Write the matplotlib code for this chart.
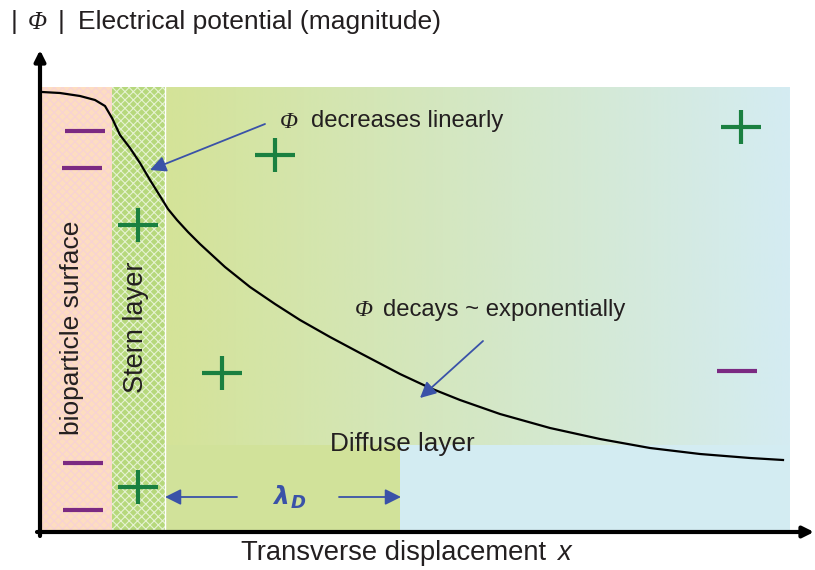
import numpy as np
import matplotlib.pyplot as plt
from matplotlib.patches import Rectangle

# potential curve (pixel coords, y downward)
curve_x = [42, 60, 80, 95, 105, 112, 120, 130, 140, 150, 160, 168, 177, 188, 200, 225, 250, 275,
           300, 330, 360, 400, 430, 460, 500, 550, 600, 650, 700, 750, 783]
curve_y = [92, 93, 96, 100, 106, 118, 135, 148, 163, 180, 196, 209, 220, 232, 244, 267, 287, 304,
           320, 337, 353, 374, 388, 400, 414, 428, 439, 448, 454, 458, 460]

plus_x = [138, 275, 222, 138, 741]
plus_y = [225, 155, 373, 487, 127]
minus_x = [85, 82, 83, 83, 737]
minus_y = [131, 168, 463, 510, 371]

region_edges = [42, 112, 165, 400, 790]   # surface | stern | diffuse | bulk
top, bottom, split = 87, 530, 445

BLUE = "#3a52a8"
GREEN = "#1a8040"
PURPLE = "#7b2a82"
TXT = "#231f20"

plt.rcParams["hatch.linewidth"] = 0.8
fig = plt.figure(figsize=(8.15, 5.7), dpi=100)
ax = fig.add_axes([0, 0, 1, 1])
ax.set_xlim(0, 815)
ax.set_ylim(570, 0)
ax.axis("off")

# bioparticle surface
ax.add_patch(Rectangle((region_edges[0], top), region_edges[1] - region_edges[0], bottom - top,
                       facecolor="#fdddc0", edgecolor="#f8d2d4", hatch="xxxx", lw=0))
# stern layer
ax.add_patch(Rectangle((region_edges[1], top), region_edges[2] - region_edges[1], bottom - top,
                       facecolor="#b6d87c", edgecolor="#e6f2d2", hatch="xxxx", lw=0))
# diffuse layer gradient
c0 = np.array([212, 227, 152]) / 255
c1 = np.array([212, 236, 242]) / 255
t = np.linspace(0, 1, 256)[None, :, None]
grad = c0 * (1 - t) + c1 * t
ax.imshow(grad, extent=(region_edges[2], region_edges[4], split, top), aspect="auto", zorder=1)
ax.add_patch(Rectangle((region_edges[2], split), region_edges[3] - region_edges[2], bottom - split,
                       facecolor="#d1e29a", lw=0, zorder=1))
ax.add_patch(Rectangle((region_edges[3], split), region_edges[4] - region_edges[3], bottom - split,
                       facecolor="#d3ecf2", lw=0, zorder=1))
ax.plot([region_edges[2]] * 2, [top, bottom], color="white", lw=1, zorder=2)

# potential curve
ax.plot(curve_x, curve_y, color="black", lw=1.6, zorder=4)

# charges
for x, y in zip(plus_x, plus_y):
    ax.plot([x - 20, x + 20], [y, y], color=GREEN, lw=3, zorder=5, solid_capstyle="butt")
    ax.plot([x, x], [y - 17, y + 17], color=GREEN, lw=3, zorder=5, solid_capstyle="butt")
for x, y in zip(minus_x, minus_y):
    ax.plot([x - 20, x + 20], [y, y], color=PURPLE, lw=3, zorder=5, solid_capstyle="butt")

# axes arrows
ax.annotate("", xy=(40, 50), xytext=(40, 536),
            arrowprops=dict(arrowstyle="-|>", lw=3, color="black", mutation_scale=16,
                            shrinkA=0, shrinkB=0), zorder=6)
ax.annotate("", xy=(814, 532), xytext=(37, 532),
            arrowprops=dict(arrowstyle="-|>", lw=3, color="black", mutation_scale=16,
                            shrinkA=0, shrinkB=0), zorder=6)

# annotation arrows
ap = dict(arrowstyle="-|>", lw=1.3, color=BLUE, mutation_scale=24, shrinkA=0, shrinkB=0)
ax.annotate("", xy=(150, 170), xytext=(265, 124), arrowprops=ap, zorder=6)
ax.annotate("", xy=(420, 398), xytext=(483, 341), arrowprops=ap, zorder=6)
ax.annotate("", xy=(165, 497), xytext=(237, 497), arrowprops=ap, zorder=6)
ax.annotate("", xy=(401, 497), xytext=(339, 497), arrowprops=ap, zorder=6)

# texts
sans = "Liberation Sans"
txt = dict(family=sans, color=TXT, va="center", zorder=5)
phi = dict(family="Liberation Serif", style="italic", color=TXT, va="center")
ax.text(11, 22, "|", fontsize=19, **txt)
ax.text(28, 23, "Φ", fontsize=18, **phi)
ax.text(58, 22, "|", fontsize=19, **txt)
ax.text(78, 22, "Electrical potential (magnitude)", fontsize=19, **txt)

ax.text(280, 122, "Φ", fontsize=17, **phi)
ax.text(311, 121, "decreases linearly", fontsize=17.2, **txt)
ax.text(355, 311, "Φ", fontsize=17, **phi)
ax.text(383, 310, "decays ~ exponentially", fontsize=17.2, **txt)
ax.text(402, 444, "Diffuse layer", ha="center", fontsize=18.8, **txt)
ax.text(72, 328, "bioparticle surface", ha="center", rotation=90, fontsize=19, **txt)
ax.text(136, 327, "Stern layer", ha="center", rotation=90, fontsize=19.5, **txt)
ax.text(281, 497, "λ", family="DejaVu Sans", style="italic", weight="bold", fontsize=18,
        color=BLUE, va="center", ha="center", zorder=5)
ax.text(291, 503, "D", family="DejaVu Sans", style="italic", weight="bold", fontsize=13,
        color=BLUE, va="center", ha="left", zorder=5)

ax.text(241, 553, "Transverse displacement", fontsize=19.7, **txt)
ax.text(557, 553, "x", fontsize=19.7, family=sans, style="italic", color=TXT, va="center")

fig.savefig("out.png", dpi=100)
